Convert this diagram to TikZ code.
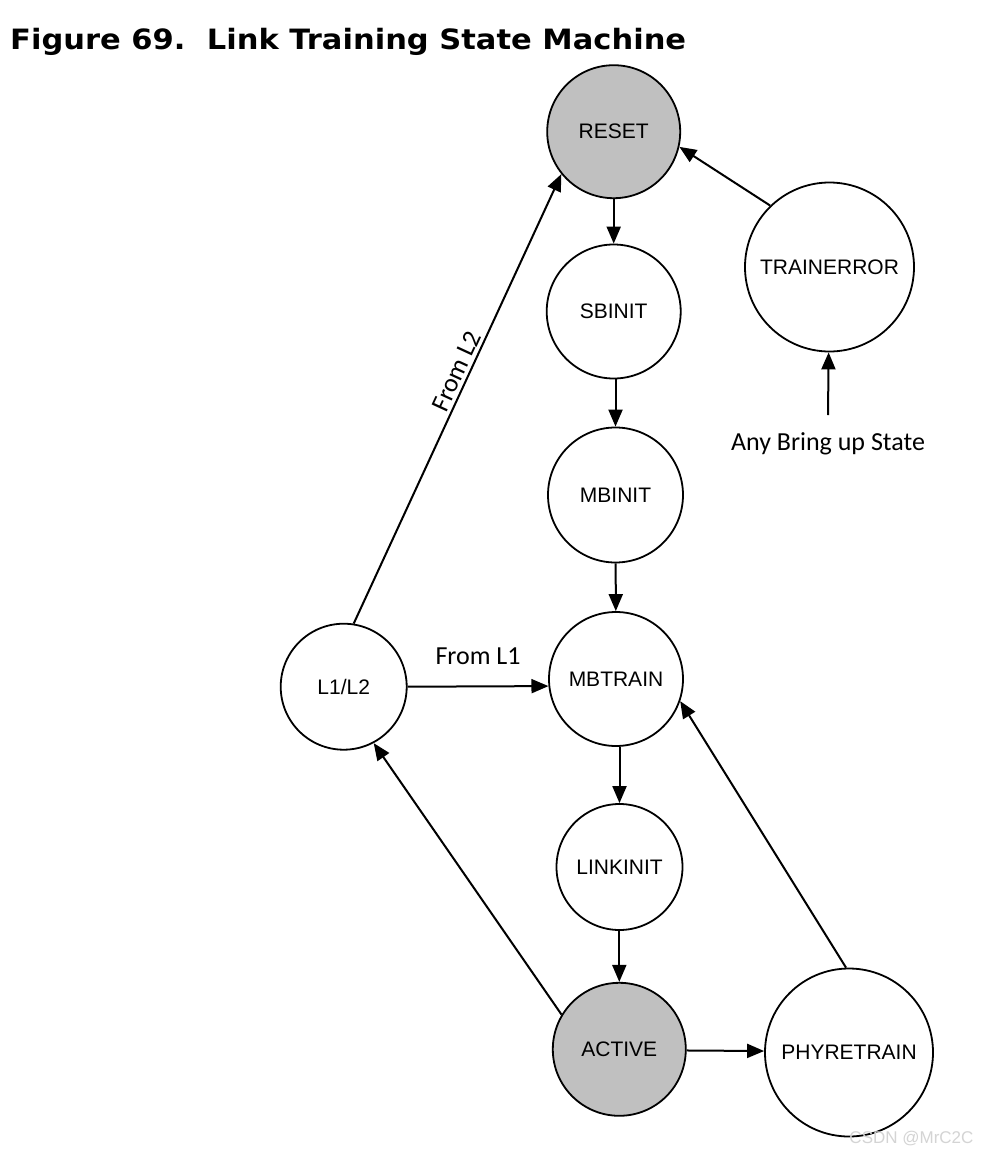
\documentclass[tikz,border=0pt]{standalone}
\usepackage{fontspec}
\setmainfont{Liberation Sans}
\newfontfamily\titlefont{DejaVu Sans}
\newfontfamily\lblfont{Carlito}
\usetikzlibrary{arrows.meta}
\definecolor{stgray}{HTML}{C0C0C0}
\definecolor{wmgray}{HTML}{D4D4D4}
\begin{document}
\begin{tikzpicture}[x=1pt,y=-1pt,
  state/.style={circle,draw=black,line width=1.8pt,fill=white,inner sep=0pt,
    font=\fontsize{21}{24}\selectfont},
  hot/.style={fill=stgray},
  conn/.style={line width=2pt,-{Triangle[length=17pt,width=14pt]}},
  elabel/.style={font=\lblfont\fontsize{26}{29}\selectfont}]
\useasboundingbox (0,0) rectangle (981,1154);
\fill[white] (0,0) rectangle (981,1154);
\node[anchor=base west,inner sep=0pt,font=\titlefont\bfseries\fontsize{28}{32}\selectfont] (title) at (10,49) {\scalebox{1.09}[1]{Figure 69.\hspace{0.7em}Link Training State Machine}};

\node[state,hot,minimum size=133pt] (reset) at (613.7,131.7) {RESET};
\node[state,minimum size=134pt] (sbinit) at (613.7,311.5) {SBINIT};
\node[state,minimum size=135pt] (mbinit) at (615.5,495) {MBINIT};
\node[state,minimum size=134pt] (mbtrain) at (616,679) {MBTRAIN};
\node[state,minimum size=126pt] (linkinit) at (619.5,867) {LINKINIT};
\node[state,hot,minimum size=133pt] (active) at (619.3,1049.3) {ACTIVE};
\node[state,minimum size=168pt] (phy) at (849,1052.5) {PHYRETRAIN};
\node[state,minimum size=169pt] (trainerr) at (829.5,267) {TRAINERROR};
\node[state,minimum size=126pt] (l12) at (343.7,686.7) {L1/L2};

\coordinate (anyst) at (828,415);
\node[elabel,anchor=base] (anylbl) at (828,450) {Any Bring up State};

\draw[conn] (reset) -- (sbinit);
\draw[conn] (mbinit.north |- sbinit.south) -- (mbinit.north);
\draw[conn] (mbinit) -- (mbtrain);
\draw[conn] (linkinit.north |- mbtrain.south) -- (linkinit.north);
\draw[conn] (active.north |- linkinit.south) -- (active.north);
\draw[conn] (active.-1.5) -- (phy.179);
\draw[conn] (phy.92) -- (mbtrain.-19.7);
\draw[conn] (active.149.7) -- (l12.-62.4);
\draw[conn] (l12.east) -- (mbtrain.186.6) node[elabel,midway,yshift=22pt,anchor=base] (froml1) {From L1};
\draw[conn] (l12.81.4) -- (reset.219) node[elabel,pos=0.55,sloped,above,inner sep=3pt] (froml2) {From L2};
\draw[conn] (trainerr.134.9) -- (reset.-13.2);
\draw[conn] (anyst) -- (trainerr);

\node[anchor=base east,text=wmgray,font=\fontsize{17}{20}\selectfont] (wm) at (977,1143) {CSDN @MrC2C};
\end{tikzpicture}
\end{document}
